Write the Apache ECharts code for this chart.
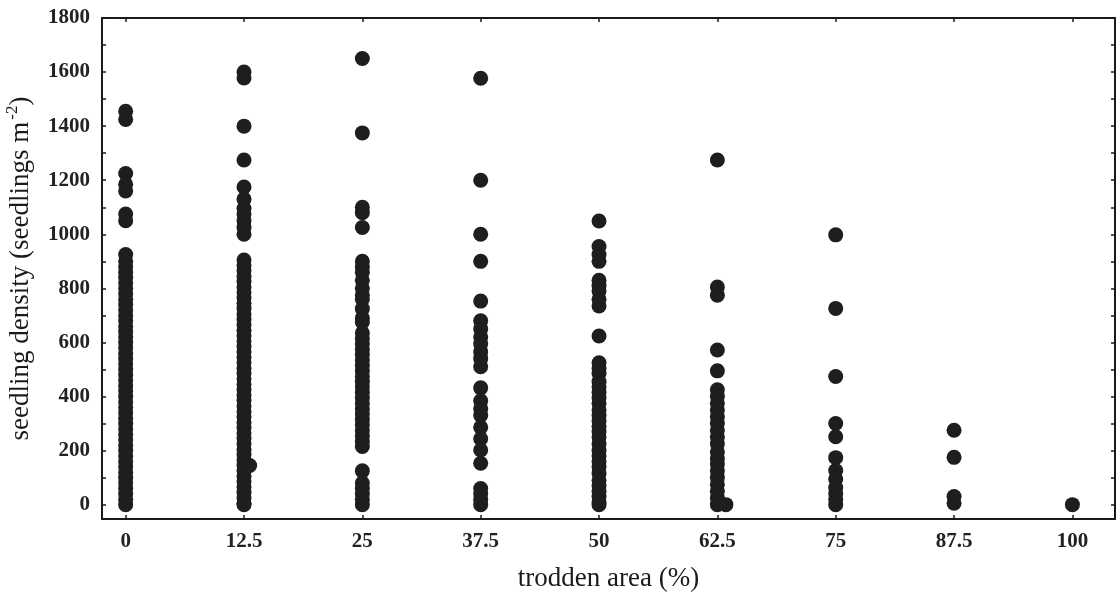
<!DOCTYPE html>
<html>
<head>
<meta charset="utf-8">
<script src="https://cdn.jsdelivr.net/npm/echarts@6/dist/echarts.min.js"></script>
<style>
html,body{margin:0;padding:0;background:#fff;}
#chart{width:1119px;height:593px;}
</style>
</head>
<body>
<div id="chart"></div>
<script>
// trodden area categories (%)
var trodden = [0, 12.5, 25, 37.5, 50, 62.5, 75, 87.5, 100];
var xTickLabels = [0, 12.5, 25, 37.5, 50, 62.5, 75, 87.5, 100];
var yTickLabels = [0, 200, 400, 600, 800, 1000, 1200, 1400, 1600, 1800];
var yTickMarks = [0,100,200,300,400,500,600,700,800,900,1000,1100,1200,1300,1400,1500,1600,1700,1800];

// seedling density values per trodden-area column
var dens0 = [1455, 1425, 1225, 1185, 1160, 1075, 1050, 925, 900, 880, 860, 840, 820, 800, 780, 760, 740, 720, 700, 680, 660, 640, 620, 600, 580, 560, 540, 520, 500, 480, 460, 440, 420, 400, 380, 360, 340, 320, 300, 280, 260, 240, 220, 200, 180, 160, 140, 120, 100, 80, 60, 40, 20, 0];
var dens12_5 = [1600, 1578, 1400, 1275, 1175, 1130, 1095, 1075, 1050, 1025, 1000, 905, 885, 865, 845, 825, 805, 785, 765, 745, 725, 705, 685, 665, 645, 625, 605, 585, 565, 545, 525, 505, 485, 465, 445, 425, 405, 385, 365, 345, 325, 305, 285, 265, 245, 225, 205, 185, 165, 145, 125, 105, 85, 65, 45, 25, 5, 0];
var dens25 = [1650, 1375, 1100, 1080, 1025, 900, 880, 860, 830, 800, 775, 760, 725, 690, 675, 635, 615, 595, 575, 555, 535, 515, 495, 475, 455, 435, 415, 395, 375, 355, 335, 315, 295, 275, 255, 235, 215, 125, 80, 60, 40, 20, 0];
var dens37_5 = [1577, 1200, 1000, 900, 753, 680, 650, 620, 595, 565, 540, 510, 432, 384, 355, 330, 286, 244, 202, 153, 60, 40, 20, 0];
var dens50 = [1049, 955, 925, 900, 830, 810, 790, 760, 735, 624, 525, 505, 485, 455, 435, 415, 395, 375, 350, 330, 310, 290, 270, 250, 225, 200, 180, 160, 140, 115, 90, 70, 50, 30, 10, 0];
var dens62_5 = [1275, 805, 775, 572, 495, 425, 400, 375, 350, 325, 300, 275, 250, 225, 195, 170, 150, 125, 100, 75, 50, 25, 0];
var dens75 = [998, 726, 474, 300, 251, 174, 126, 95, 63, 40, 20, 0];
var dens87_5 = [275, 175, 30, 5];
var dens100 = [0];
var columns = [dens0, dens12_5, dens25, dens37_5, dens50, dens62_5, dens75, dens87_5, dens100];
// a couple of points plotted slightly off their column in the original
var offsetPoints = [[13.1, 145], [63.4, 0]];

var points = [];
columns.forEach(function (col, i) {
  col.forEach(function (v) { points.push([trodden[i], v]); });
});
offsetPoints.forEach(function (p) { points.push(p); });

var font = 'Liberation Serif';
var axisCol = '#1a1a1a';

var chart = echarts.init(document.getElementById('chart'), null, {renderer: 'canvas'});
chart.setOption({
  animation: false,
  backgroundColor: '#ffffff',
  grid: {left: 102, right: 4, top: 18, bottom: 74, containLabel: false, outerBoundsMode: 'none'},
  xAxis: [{
    type: 'value', min: -2.5, max: 104.5, position: 'bottom',
    name: 'trodden area (%)', nameLocation: 'middle', nameGap: 46,
    nameTextStyle: {fontFamily: font, fontSize: 27, color: '#1a1a1a'},
    axisLine: {show: true, onZero: false, lineStyle: {color: axisCol, width: 2}},
    axisTick: {show: true, inside: true, length: 4, customValues: xTickLabels, lineStyle: {color: axisCol, width: 1.5}},
    axisLabel: {show: true, customValues: xTickLabels, margin: 12, fontFamily: font, fontSize: 21, fontWeight: 'bold', color: '#222',
      formatter: function (v) { return String(v); }},
    splitLine: {show: false}
  }, {
    type: 'value', min: -2.5, max: 104.5, position: 'top',
    axisLine: {show: true, onZero: false, lineStyle: {color: axisCol, width: 2}},
    axisTick: {show: true, inside: true, length: 4, customValues: xTickLabels, lineStyle: {color: axisCol, width: 1.5}},
    axisLabel: {show: false},
    splitLine: {show: false}
  }],
  yAxis: [{
    type: 'value', min: -53, max: 1800, position: 'left',
    name: '{a|seedling density (seedlings m}{s|-2}{a|)}', nameLocation: 'middle', nameGap: 56,
    nameTextStyle: {
      fontFamily: font, fontSize: 27, color: '#1a1a1a',
      rich: {
        a: {fontFamily: font, fontSize: 27, color: '#1a1a1a', lineHeight: 30},
        s: {fontFamily: font, fontSize: 17, color: '#1a1a1a', lineHeight: 30, padding: [0, 0, 16, 2]}
      }
    },
    axisLine: {show: true, onZero: false, lineStyle: {color: axisCol, width: 2}},
    axisTick: {show: true, inside: true, length: 4, customValues: yTickMarks, lineStyle: {color: axisCol, width: 1.5}},
    axisLabel: {show: true, customValues: yTickLabels, margin: 12, fontFamily: font, fontSize: 21, fontWeight: 'bold', color: '#222',
      formatter: function (v) { return String(v); }},
    splitLine: {show: false}
  }, {
    type: 'value', min: -53, max: 1800, position: 'right',
    axisLine: {show: true, onZero: false, lineStyle: {color: axisCol, width: 2}},
    axisTick: {show: true, inside: true, length: 4, customValues: yTickMarks, lineStyle: {color: axisCol, width: 1.5}},
    axisLabel: {show: false},
    splitLine: {show: false}
  }],
  series: [{
    type: 'scatter',
    xAxisIndex: 0, yAxisIndex: 0,
    data: points,
    symbol: 'circle',
    symbolSize: 15,
    itemStyle: {color: '#1e1e1e', opacity: 1},
    silent: true
  }]
});
</script>
</body>
</html>
